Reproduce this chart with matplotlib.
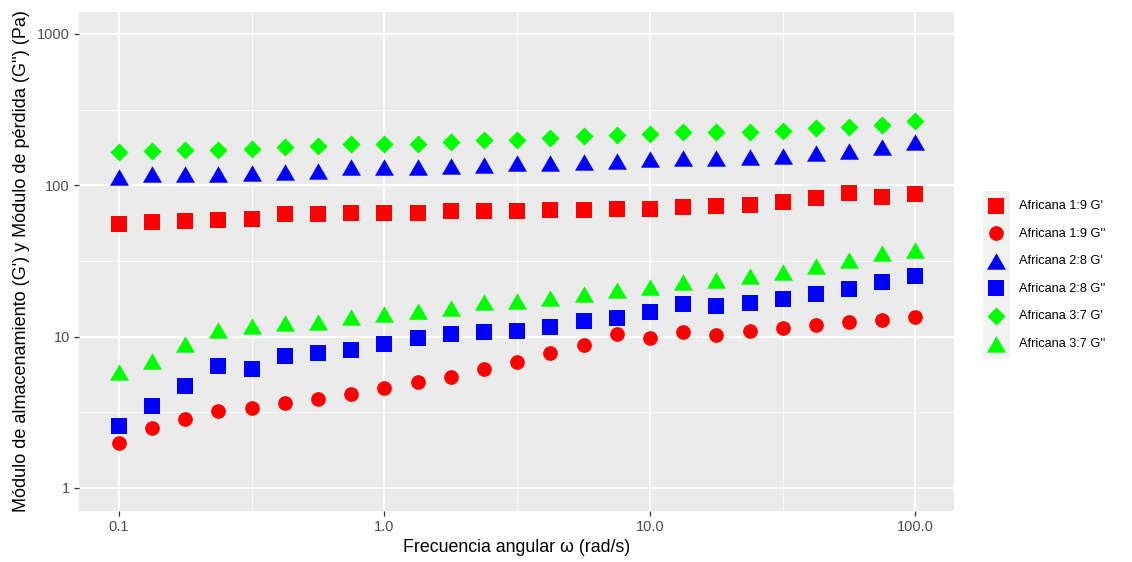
import matplotlib
matplotlib.use("Agg")
import matplotlib.pyplot as plt
from matplotlib.patches import Rectangle
from matplotlib.ticker import NullFormatter

plt.rcParams['font.family'] = ['Liberation Sans', 'DejaVu Sans']

#%% datos
freq = [0.1, 0.1334, 0.1778, 0.2371, 0.3162, 0.4217, 0.5623, 0.7499, 1.0, 1.334,
        1.778, 2.371, 3.162, 4.217, 5.623, 7.499, 10.0, 13.34, 17.78, 23.71,
        31.62, 42.17, 56.23, 74.99, 100.0]

af19_gp = [55.4, 57.1, 58.2, 59.1, 60.0, 64.8, 64.3, 66.0, 66.0, 66.0, 67.3, 67.3, 67.3,
           68.2, 68.2, 69.9, 69.9, 71.7, 72.8, 74.5, 77.7, 82.0, 88.3, 83.9, 87.4]
af19_gpp = [1.99, 2.48, 2.87, 3.22, 3.40, 3.66, 3.88, 4.17, 4.58, 4.98, 5.43, 6.07, 6.80,
            7.74, 8.79, 10.36, 9.82, 10.76, 10.32, 10.87, 11.43, 12.02, 12.52, 12.97, 13.51]
af28_gp = [112.6, 118.0, 118.7, 118.4, 121.1, 122.9, 125.2, 132.6, 131.6, 131.6, 134.1, 136.1,
           139.5, 140.9, 143.0, 145.7, 148.2, 152.0, 152.0, 153.9, 157.2, 162.3, 168.3, 178.9, 192.4]
af28_gpp = [2.58, 3.48, 4.74, 6.39, 6.11, 7.44, 7.82, 8.21, 8.92, 9.77, 10.48, 10.67, 10.95,
            11.55, 12.62, 13.36, 14.64, 16.53, 15.89, 16.78, 17.75, 19.06, 20.56, 22.98, 25.17]
af37_gp = [165.8, 167.3, 171.7, 171.7, 174.3, 177.8, 180.5, 188.1, 188.1, 188.1, 191.8, 198.9,
           200.7, 206.9, 210.1, 214.6, 218.9, 225.6, 225.6, 225.6, 230.1, 238.6, 244.5, 252.0, 266.7]
af37_gpp = [5.86, 6.95, 8.90, 11.0, 11.75, 12.29, 12.58, 13.41, 14.18, 14.86, 15.53, 16.88, 17.22,
            17.94, 19.15, 20.26, 21.39, 23.14, 23.61, 25.24, 26.74, 29.15, 32.33, 35.57, 37.34]

labels = ["Africana 1:9 G'", "Africana 1:9 G''", "Africana 2:8 G'",
          "Africana 2:8 G''", "Africana 3:7 G'", "Africana 3:7 G''"]

# triangulo equilatero centrado
tri = [(-1, -0.866), (1, -0.866), (0, 0.866)]

#%% grafico
W, H = 1132, 562
fig = plt.figure(figsize=(W / 100, H / 100), dpi=100)
ax = fig.add_axes([79 / W, 1 - 510.7 / H, (954 - 79) / W, (510.7 - 12) / H])
ax.set_facecolor('#EBEBEB')
ax.set_xscale('log')
ax.set_yscale('log')
ax.set_xlim(10 ** -1.15, 10 ** 2.145)
ax.set_ylim(10 ** -0.15, 10 ** 3.145)

ax.set_xticks([0.1, 1, 10, 100])
ax.set_xticklabels(['0.1', '1.0', '10.0', '100.0'])
ax.set_xticks([0.3162, 3.162, 31.62], minor=True)
ax.set_yticks([1, 10, 100, 1000])
ax.set_yticklabels(['1', '10', '100', '1000'])
ax.set_yticks([3.162, 31.62, 316.2], minor=True)
ax.xaxis.set_minor_formatter(NullFormatter())
ax.yaxis.set_minor_formatter(NullFormatter())
ax.grid(which='major', color='white', lw=1.3)
ax.grid(which='minor', color='white', lw=0.6)
ax.set_axisbelow(True)
ax.tick_params(which='minor', length=0)
ax.tick_params(which='major', length=3.5, width=0.9, color='#333333',
               labelcolor='#4D4D4D', labelsize=10.5, pad=3)
for s in ax.spines.values():
    s.set_visible(False)

h = []
h.append(ax.scatter(freq, af19_gp, marker='s', s=117, color='#FF0000', lw=0, label=labels[0]))
h.append(ax.scatter(freq, af19_gpp, marker='o', s=112, color='#FF0000', lw=0, label=labels[1]))
h.append(ax.scatter(freq, af28_gp, marker=tri, s=187, color='#0000FF', lw=0, label=labels[2]))
h.append(ax.scatter(freq, af28_gpp, marker='s', s=117, color='#0000FF', lw=0, label=labels[3]))
h.append(ax.scatter(freq, af37_gp, marker='D', s=85, color='#00FF00', lw=0, label=labels[4]))
h.append(ax.scatter(freq, af37_gpp, marker=tri, s=187, color='#00FF00', lw=0, label=labels[5]))

fig.text(516.5 / W, 1 - 548 / H, 'Frecuencia angular ω (rad/s)', ha='center', va='center', fontsize=12.8)
fig.text(22 / W, 1 - 261 / H, "Módulo de almacenamiento (G') y Módulo de pérdida (G'') (Pa)",
         ha='center', va='center', rotation=90, fontsize=13)

# fondo de las claves de la leyenda
fig.add_artist(Rectangle((983 / W, 1 - 358 / H), 27 / W, 167 / H, transform=fig.transFigure,
                         facecolor='#F2F2F2', edgecolor='none', zorder=0))
fig.legend(handles=h, labels=labels, loc='upper left', bbox_to_anchor=(983.5 / W, 1 - 200 / H),
           bbox_transform=fig.transFigure, frameon=False, fontsize=9.2, labelspacing=1.22,
           handlelength=2, handletextpad=0.77, borderpad=0, borderaxespad=0, scatterpoints=1)

fig.savefig('out.png', dpi=100)
